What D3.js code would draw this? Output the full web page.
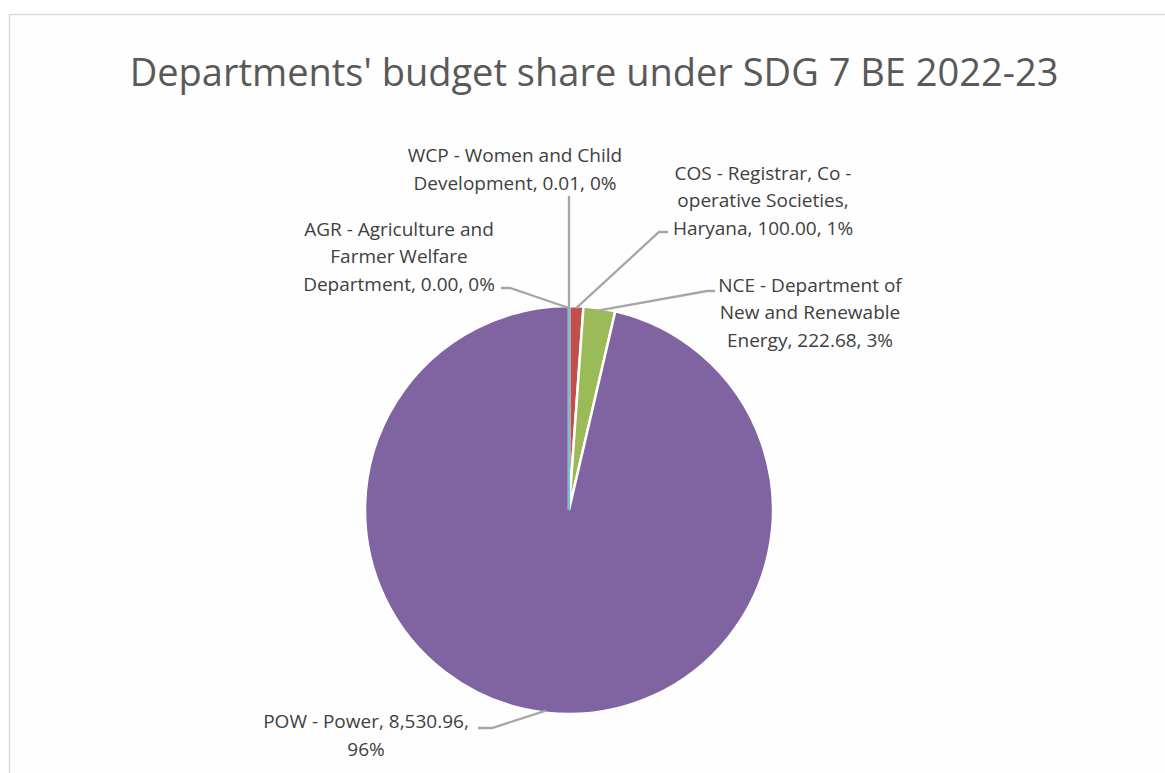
<!DOCTYPE html>
<html>
<head>
<meta charset="utf-8">
<script src="https://cdn.jsdelivr.net/npm/d3@7"></script>
<style>
  body { margin: 0; background: #fff; }
</style>
</head>
<body>
<div id="chart"></div>
<script>
// Parameters
const svg_w = 1165;
const svg_h = 773;
const cx = 569, cy = 510, radius = 204;

// Data (BE 2022-23, in order of the source table)
const codes = ["AGR", "COS", "NCE", "POW", "WCP"];
const departments = [
  "Agriculture and Farmer Welfare Department",
  "Registrar, Co -operative Societies, Haryana",
  "Department of New and Renewable Energy",
  "Power",
  "Women and Child Development"
];
const budget = [0.00, 100.00, 222.68, 8530.96, 0.01];
const colors = ["#4F81BD", "#C0504D", "#9BBB59", "#8064A2", "#4BACC6"];

// Label text lines as wrapped in the chart
const labelLines = [
  ["AGR - Agriculture and", "Farmer Welfare", "Department, 0.00, 0%"],
  ["COS - Registrar, Co -", "operative Societies,", "Haryana, 100.00, 1%"],
  ["NCE - Department of", "New and Renewable", "Energy, 222.68, 3%"],
  ["POW - Power, 8,530.96,", "96%"],
  ["WCP - Women and Child", "Development, 0.01, 0%"]
];

// Label placement (offset of label centre from pie centre) and leader elbow
const labelPos = [
  {dx: -170, dy: -254, ex: -59, ey: -222, hx: -68},
  {dx: 194,  dy: -310, ex: 90,  ey: -278, hx: 99},
  {dx: 241,  dy: -198, ex: 138, ey: -219, hx: 146},
  {dx: -203, dy: 225,  ex: -77, ey: 218,  hx: -91},
  {dx: -54,  dy: -341, ex: 0,   ey: -314, hx: 0}
];

const data = codes.map((c, i) => ({
  code: c, name: departments[i], value: budget[i], color: colors[i],
  lines: labelLines[i], pos: labelPos[i]
}));

const svg = d3.select("#chart")
  .append("svg")
    .attr("width", svg_w)
    .attr("height", svg_h);

svg.append("rect")
    .attr("x", 0).attr("y", 0)
    .attr("width", svg_w).attr("height", svg_h)
    .attr("fill", "#ffffff");

// chart area border
svg.append("rect")
    .attr("x", 9.5).attr("y", 14.5)
    .attr("width", svg_w + 20).attr("height", svg_h + 20)
    .attr("fill", "#fefefe")
    .attr("stroke", "#d9d9d9")
    .attr("stroke-width", 1.5);

svg.append("text")
    .attr("x", 594)
    .attr("y", 86)
    .attr("text-anchor", "middle")
    .style("font-family", "'Open Sans', sans-serif")
    .style("font-size", "38px")
    .attr("fill", "#595959")
    .text("Departments' budget share under SDG 7 BE 2022-23");

const pie = d3.pie().sort(null).value(d => d.value);
const arcs = pie(data);
const arc = d3.arc().innerRadius(0).outerRadius(radius);

const g = svg.append("g")
    .attr("transform", `translate(${cx}, ${cy})`);

g.selectAll("path.slice")
  .data(arcs)
  .enter()
  .append("path")
    .attr("class", "slice")
    .attr("d", arc)
    .attr("fill", d => d.data.color)
    .attr("stroke", d => (d.endAngle - d.startAngle) < 0.005 ? d.data.color : "#ffffff")
    .attr("stroke-width", d => (d.endAngle - d.startAngle) < 0.005 ? 1.5 : 2.5);

// leader lines: start on the rim of each slice
const rim = d3.arc().innerRadius(radius - 2).outerRadius(radius - 2);
g.selectAll("polyline")
  .data(arcs)
  .enter()
  .append("polyline")
    .attr("points", d => {
      const [sx, sy] = rim.centroid(d);
      const p = d.data.pos;
      return [[sx, sy], [p.ex, p.ey], [p.hx, p.ey]].map(q => q.join(",")).join(" ");
    })
    .attr("fill", "none")
    .attr("stroke", "#a6a6a6")
    .attr("stroke-width", 2.3);

const lineH = 27.5;
const labels = g.selectAll("text.label")
  .data(arcs)
  .enter()
  .append("text")
    .attr("class", "label")
    .attr("text-anchor", "middle")
    .style("font-family", "'Open Sans', sans-serif")
    .style("font-size", "19px")
    .attr("fill", "#404040")
    .attr("transform", d => `translate(${d.data.pos.dx}, ${d.data.pos.dy})`);

labels.each(function(d) {
  const n = d.data.lines.length;
  d3.select(this).selectAll("tspan")
    .data(d.data.lines)
    .enter()
    .append("tspan")
      .attr("x", 0)
      .attr("y", (l, i) => (i - (n - 1) / 2) * lineH + 7)
      .text(l => l);
});
</script>
</body>
</html>
